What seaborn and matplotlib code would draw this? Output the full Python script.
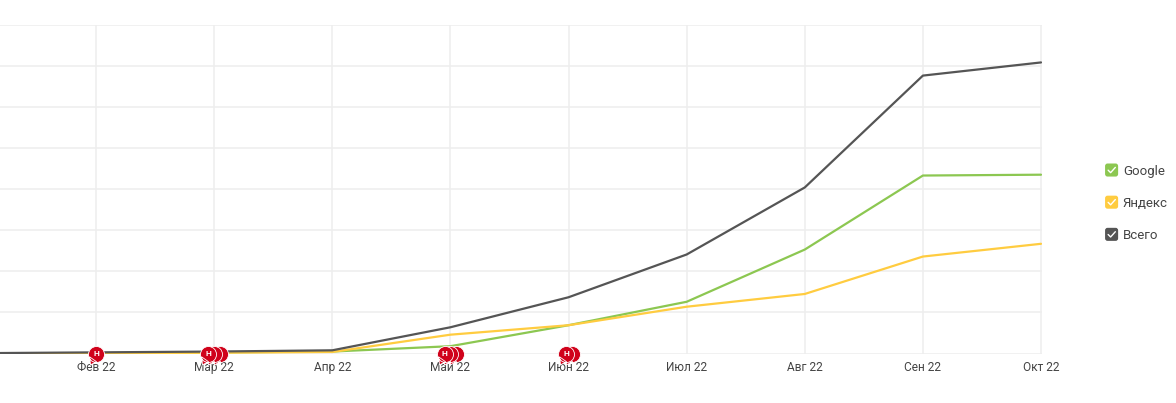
import numpy as np
import pandas as pd
import matplotlib
matplotlib.use("Agg")
import matplotlib.pyplot as plt
import seaborn as sns
from matplotlib.path import Path
from matplotlib.patches import FancyBboxPatch
from matplotlib.lines import Line2D
from matplotlib.legend_handler import HandlerBase

months = ["Янв 22", "Фев 22", "Мар 22", "Апр 22", "Май 22", "Июн 22", "Июл 22", "Авг 22", "Сен 22", "Окт 22"]
google = [0.0, 0.01, 0.03, 0.05, 0.18, 0.69, 1.26, 2.53, 4.33, 4.35]
yandex = [0.0, 0.01, 0.02, 0.04, 0.46, 0.69, 1.14, 1.45, 2.36, 2.67]
total = [0.01, 0.03, 0.05, 0.08, 0.64, 1.37, 2.41, 4.04, 6.76, 7.08]
note_x = [1.0, 2.05, 2.0, 1.95, 4.05, 4.0, 3.95, 5.03, 4.98]
note_y = [0, 0, 0, 0, 0, 0, 0, 0, 0]

colors = {"Google": "#8CC751", "Яндекс": "#FFCC40", "Всего": "#555555"}

sns.set_theme(style="white")
plt.rcParams["font.family"] = ["Roboto", "DejaVu Sans"]

W, H = 1176, 403
fig = plt.figure(figsize=(W / 100, H / 100), dpi=100, facecolor="white")
ax = fig.add_axes([0, (403 - 353.6) / H, 1041.5 / W, 329 / H])

df = pd.DataFrame({"x": np.arange(len(months)), "Google": google, "Яндекс": yandex, "Всего": total})
long = df.melt("x", var_name="series", value_name="value")
sns.lineplot(data=long, x="x", y="value", hue="series", palette=colors,
             hue_order=["Google", "Яндекс", "Всего"], linewidth=1.6, legend=False, ax=ax, zorder=3)

ax.set_xlim(0.187, 9.004)
ax.set_ylim(0, 8)
ax.set_xticks(np.arange(1, 10))
ax.set_xticklabels(months[1:])
ax.set_yticks(np.arange(0, 9))
ax.set_yticklabels([])
ax.set_xlabel("")
ax.set_ylabel("")
ax.grid(True, color="#EEEEEE", linewidth=1.1)
ax.set_axisbelow(True)
for s in ax.spines.values():
    s.set_visible(False)
ax.tick_params(axis="x", length=0, pad=5.5, labelsize=8.6, labelcolor="#444444")
ax.tick_params(axis="y", length=0)

# note markers: red circle with a small tail at the lower left
circle = Path.unit_circle()
tail = Path([(-0.85, -0.3), (-0.75, -1.3), (0.0, -0.9), (-0.85, -0.3)],
            [Path.MOVETO, Path.LINETO, Path.LINETO, Path.CLOSEPOLY])
pin = Path.make_compound_path(circle, tail)
for i, (nx, ny) in enumerate(zip(note_x, note_y)):
    sns.scatterplot(x=[nx], y=[ny], marker=pin, s=225, color="#D0021B", edgecolor="white",
                    linewidth=0.6, ax=ax, clip_on=False, zorder=5 + i, legend=False)
for nx, ny in zip([1.0, 1.95, 3.95, 4.98], [0, 0, 0, 0]):
    ax.text(nx, ny, "Н", color="white", fontsize=6, fontweight="bold",
            ha="center", va="center", zorder=30, clip_on=False)


class CheckHandler(HandlerBase):
    def create_artists(self, legend, orig, xd, yd, width, height, fontsize, trans):
        s = 9.4
        cx, cy = width / 2 - xd, height / 2 - yd
        box = FancyBboxPatch((cx - s / 2 + 1.2, cy - s / 2 + 1.2), s - 2.4, s - 2.4,
                             boxstyle="round,pad=1.2,rounding_size=1.8",
                             fc=orig.get_color(), ec="none", transform=trans)
        check = Line2D([cx - 2.5, cx - 0.7, cx + 2.7], [cy - 0.1, cy - 1.9, cy + 1.9],
                       color="white", lw=1.0, transform=trans)
        return [box, check]


handles = [Line2D([], [], color=c, label=n) for n, c in colors.items()]
leg = fig.legend(handles=handles, labels=list(colors), handler_map={Line2D: CheckHandler()},
                 loc="center left", bbox_to_anchor=(1105 / W, (403 - 203) / H), frameon=False,
                 fontsize=9.5, labelcolor="#444444", handlelength=1.0, handleheight=1.0,
                 handletextpad=0.35, labelspacing=1.42, borderpad=0, borderaxespad=0)

fig.savefig("out.png", dpi=100, facecolor="white")
